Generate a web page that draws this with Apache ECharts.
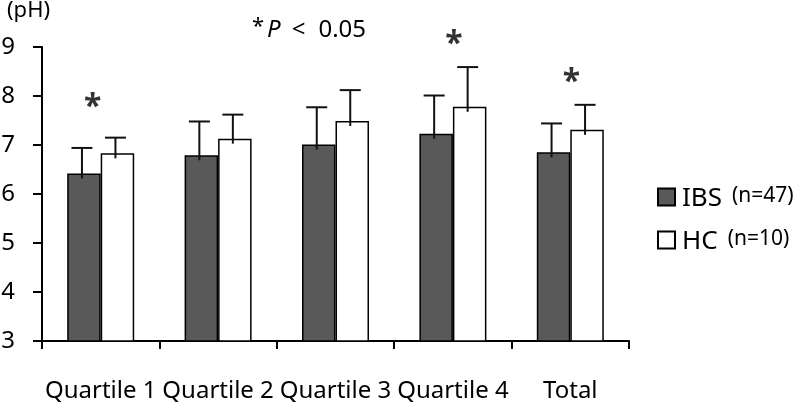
<!DOCTYPE html>
<html>
<head>
<meta charset="utf-8">
<script src="https://cdn.jsdelivr.net/npm/echarts@6/dist/echarts.min.js"></script>
<style>html,body{margin:0;padding:0;background:#fff}#c{width:800px;height:402px}</style>
</head>
<body>
<div id="c"></div>
<script>
const categories = ['Quartile 1', 'Quartile 2', 'Quartile 3', 'Quartile 4', 'Total'];
const ibsMean = [6.42, 6.79, 7.01, 7.23, 6.85];
const ibsSD = [0.52, 0.69, 0.76, 0.78, 0.59];
const hcMean = [6.83, 7.13, 7.49, 7.78, 7.31];
const hcSD = [0.32, 0.49, 0.63, 0.81, 0.51];
const sigCategories = ['Quartile 1', 'Quartile 4', 'Total'];
const sigY = [7.92, 9.2, 8.43];
const yMin = 3, yMax = 9, yInterval = 1;
const legendNames = ['IBS', 'HC'];
const legendN = ['(n=47)', '(n=10)'];

const FONT = 'Noto Sans';
const BAR_W = 33.5;
const chart = echarts.init(document.getElementById('c'), null, {renderer: 'canvas'});

function errData(mean, sd) {
  return mean.map((m, i) => [i, m, +(m + sd[i]).toFixed(3)]);
}
function errSeries(name, mean, sd, dir) {
  return {
    type: 'custom',
    name: name + '_err',
    z: 5,
    data: errData(mean, sd),
    encode: {x: 0, y: [1, 2]},
    renderItem: function (params, api) {
      const p = api.coord([api.value(0), api.value(1)]);
      const t = api.coord([api.value(0), api.value(2)]);
      const x = p[0] + dir * BAR_W / 2 - 2;
      const cap = 10.5;
      const style = {stroke: '#111', lineWidth: 2};
      return {
        type: 'group',
        children: [
          {type: 'line', shape: {x1: x, y1: p[1] + 5, x2: x, y2: t[1]}, style: style},
          {type: 'line', shape: {x1: x - cap, y1: t[1], x2: x + cap, y2: t[1]}, style: style}
        ]
      };
    }
  };
}

const option = {
  animation: false,
  textStyle: {fontFamily: FONT, color: '#000'},
  grid: {left: 42, right: 171, top: 47, bottom: 61, containLabel: false, outerBoundsMode: 'none'},
  legend: {
    orient: 'vertical',
    left: 657,
    top: 180,
    padding: 0,
    itemWidth: 17,
    itemHeight: 17,
    itemGap: 11,
    itemTextGap: 8,
    icon: 'rect',
    data: legendNames,
    formatter: function (name) {
      const i = legendNames.indexOf(name);
      return '{a|' + name + '}{b|' + legendN[i] + '}';
    },
    textStyle: {
      color: '#000',
      rich: {
        a: {fontSize: 26, fontFamily: FONT, color: '#000', lineHeight: 30, verticalAlign: 'bottom', padding: [6, 0, 0, 2]},
        b: {fontSize: 21, fontFamily: FONT, color: '#000', lineHeight: 30, padding: [0, 0, 5, 10], verticalAlign: 'bottom'}
      }
    }
  },
  xAxis: {
    type: 'category',
    data: categories,
    axisLine: {lineStyle: {color: '#000', width: 2}},
    axisTick: {show: true, length: 8, lineStyle: {color: '#000', width: 2}},
    axisLabel: {fontSize: 24, color: '#000', margin: 38, fontFamily: FONT, interval: 0}
  },
  yAxis: {
    type: 'value',
    min: yMin, max: yMax, interval: yInterval,
    splitLine: {show: false},
    axisLine: {show: true, lineStyle: {color: '#000', width: 2}},
    axisTick: {show: true, length: 9, lineStyle: {color: '#000', width: 2}},
    axisLabel: {fontSize: 24, color: '#000', margin: 27, fontFamily: FONT}
  },
  graphic: [
    {type: 'text', left: 7, top: 0, style: {text: '(pH)', fontSize: 22, fontFamily: FONT, fill: '#000'}},
    {type: 'text', left: 252, top: 16, style: {
      text: '{s|*}{p|P}{l|<}{n|0.05}', fontFamily: FONT, fill: '#000',
      rich: {
        s: {fontSize: 22, fontFamily: FONT, padding: [0, 3, 6, 0]},
        p: {fontSize: 24, fontStyle: 'italic', fontFamily: FONT},
        l: {fontSize: 24, fontFamily: FONT, padding: [0, 13, 0, 11]},
        n: {fontSize: 24, fontFamily: FONT}
      }
    }}
  ],
  series: [
    {
      name: 'IBS', type: 'bar', data: ibsMean, barWidth: BAR_W, barGap: '0%',
      itemStyle: {color: '#595959', borderColor: '#000', borderWidth: 1.5}
    },
    {
      name: 'HC', type: 'bar', data: hcMean, barWidth: BAR_W, barGap: '0%',
      itemStyle: {color: '#ffffff', borderColor: '#000', borderWidth: 1.5}
    },
    errSeries('IBS', ibsMean, ibsSD, -1),
    errSeries('HC', hcMean, hcSD, 1),
    {
      type: 'scatter', name: 'sig', symbolSize: 0, clip: false, z: 6,
      data: sigCategories.map((c, i) => ({value: [c, sigY[i]], label: i === 0 ? {offset: [-8, 8]} : undefined})),
      label: {show: true, position: 'inside', formatter: '*', fontSize: 32, fontWeight: 'bold', color: '#000', fontFamily: FONT, offset: [1, 8]}
    }
  ]
};
chart.setOption(option);
</script>
</body>
</html>
